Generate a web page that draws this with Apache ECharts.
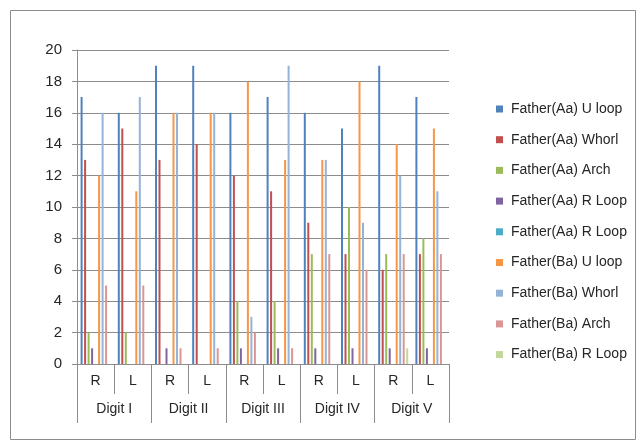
<!DOCTYPE html>
<html>
<head>
<meta charset="utf-8">
<script src="https://cdn.jsdelivr.net/npm/echarts@6/dist/echarts.min.js"></script>
<style>
  html, body { margin: 0; padding: 0; background: #fff; }
  #chart { width: 644px; height: 447px; }
</style>
</head>
<body>
<div id="chart"></div>
<script>
// Hand categories (inner row) and digit groups (outer row)
const hands = ['R', 'L', 'R', 'L', 'R', 'L', 'R', 'L', 'R', 'L'];
const digits = ['Digit I', 'Digit II', 'Digit III', 'Digit IV', 'Digit V'];
const yTicks = [0, 2, 4, 6, 8, 10, 12, 14, 16, 18, 20];

// Fingerprint pattern counts per hand/digit
const seriesNames = [
  'Father(Aa) U loop', 'Father(Aa) Whorl', 'Father(Aa) Arch', 'Father(Aa) R Loop',
  'Father(Aa) R Loop ', 'Father(Ba) U loop', 'Father(Ba) Whorl', 'Father(Ba) Arch',
  'Father(Ba) R Loop'
];
const aaULoop  = [17, 16, 19, 19, 16, 17, 16, 15, 19, 17];
const aaWhorl  = [13, 15, 13, 14, 12, 11, 9, 7, 6, 7];
const aaArch   = [2, 2, 0, 0, 4, 4, 7, 10, 7, 8];
const aaRLoop  = [1, 0, 1, 0, 1, 1, 1, 1, 1, 1];
const aaRLoop2 = [0, 0, 0, 0, 0, 0, 0, 0, 0, 0];
const baULoop  = [12, 11, 16, 16, 18, 13, 13, 18, 14, 15];
const baWhorl  = [16, 17, 16, 16, 3, 19, 13, 9, 12, 11];
const baArch   = [5, 5, 1, 1, 2, 1, 7, 6, 7, 7];
const baRLoop  = [0, 0, 0, 0, 0, 0, 0, 0, 1, 0];

const seriesData = [aaULoop, aaWhorl, aaArch, aaRLoop, aaRLoop2, baULoop, baWhorl, baArch, baRLoop];
const colors = ['#4F81BD', '#C0504D', '#9BBB59', '#8064A2', '#4BACC6', '#F79646', '#95B3D7', '#D99694', '#C3D69B'];

const FONT = '"Liberation Sans", Arial, sans-serif';
const TEXT = '#262626';
const LINE = '#8c8c8c';

const chart = echarts.init(document.getElementById('chart'), null, { renderer: 'canvas' });

chart.setOption({
  animation: false,
  backgroundColor: '#ffffff',
  color: colors,
  textStyle: { fontFamily: FONT },
  graphic: [{
    type: 'rect',
    shape: { x: 10.5, y: 10.5, width: 625, height: 429 },
    style: { fill: 'none', stroke: LINE, lineWidth: 1 },
    silent: true
  }],
  grid: { left: 77, top: 50, width: 372, height: 314, containLabel: false },
  legend: {
    orient: 'vertical',
    left: 496,
    top: 101,
    padding: 0,
    itemWidth: 7,
    itemHeight: 7,
    itemGap: 14.7,
    icon: 'rect',
    data: seriesNames,
    formatter: name => name.trim(),
    textStyle: { fontSize: 14, color: TEXT, lineHeight: 16, padding: [0, 0, 0, 3], fontFamily: FONT }
  },
  xAxis: [{
    type: 'category',
    data: hands,
    position: 'bottom',
    axisLine: { show: true, lineStyle: { color: LINE, width: 1 } },
    axisTick: { show: true, length: 30, interval: 0, lineStyle: { color: LINE } },
    axisLabel: { interval: 0, margin: 10, fontSize: 14, color: TEXT, fontFamily: FONT },
    splitLine: { show: false }
  }, {
    type: 'category',
    data: digits,
    position: 'bottom',
    axisLine: { show: false },
    axisTick: { show: true, length: 59, interval: 0, lineStyle: { color: LINE } },
    axisLabel: { interval: 0, margin: 38, fontSize: 14, color: TEXT, fontFamily: FONT },
    splitLine: { show: false }
  }],
  yAxis: {
    type: 'value',
    min: yTicks[0],
    max: yTicks[yTicks.length - 1],
    interval: 2,
    axisLine: { show: true, lineStyle: { color: LINE } },
    axisTick: { show: true, length: 5, lineStyle: { color: LINE } },
    axisLabel: { margin: 15, fontSize: 15, color: TEXT, fontFamily: FONT },
    splitLine: { show: true, lineStyle: { color: LINE, width: 1 } }
  },
  series: seriesData.map((d, i) => ({
    name: seriesNames[i],
    type: 'bar',
    xAxisIndex: 0,
    data: d,
    barWidth: 2,
    barGap: '75%',
    itemStyle: { color: colors[i] }
  }))
});
</script>
</body>
</html>
